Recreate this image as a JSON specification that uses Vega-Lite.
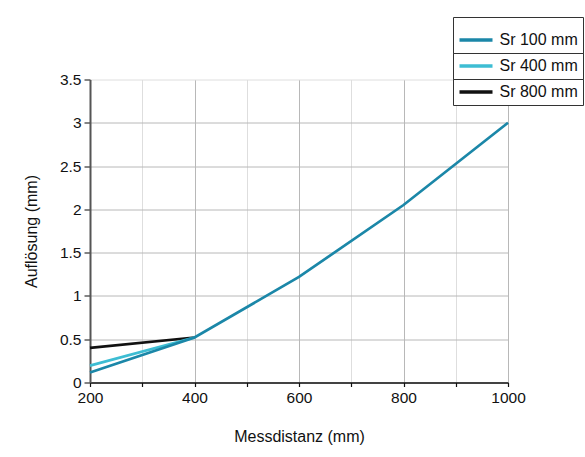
{
  "$schema": "https://vega.github.io/schema/vega-lite/v6.json",
  "width": 418,
  "height": 303,
  "autosize": "none",
  "padding": {"left": 90, "top": 79.5, "right": 77, "bottom": 74.5},
  "background": "white",
  "config": {
    "font": "Liberation Sans",
    "view": {"stroke": null},
    "axis": {"labelFont": "Liberation Sans", "titleFont": "Liberation Sans", "labelColor": "#111", "titleColor": "#111", "labelFontSize": 15.5, "titleFontSize": 16, "titleFontWeight": "normal", "labelFlush": false},
    "legend": {
      "symbolType": "stroke",
      "symbolSize": 1089,
      "symbolStrokeWidth": 3.5,
      "labelFontSize": 16,
      "labelFont": "Liberation Sans",
      "labelColor": "#111",
      "labelOffset": 5,
      "padding": 4.5,
      "strokeColor": "#333",
      "fillColor": "white",
      "orient": "none",
      "title": null
    }
  },
  "data": {
    "values": [
      {"d": 200, "r": 0.115, "series": "Sr 100 mm"},
      {"d": 400, "r": 0.52, "series": "Sr 100 mm"},
      {"d": 600, "r": 1.22, "series": "Sr 100 mm"},
      {"d": 800, "r": 2.05, "series": "Sr 100 mm"},
      {"d": 1000, "r": 3.0, "series": "Sr 100 mm"},
      {"d": 200, "r": 0.195, "series": "Sr 400 mm"},
      {"d": 400, "r": 0.52, "series": "Sr 400 mm"},
      {"d": 200, "r": 0.4, "series": "Sr 800 mm"},
      {"d": 400, "r": 0.52, "series": "Sr 800 mm"}
    ]
  },
  "encoding": {
    "x": {
      "field": "d", "type": "quantitative",
      "scale": {"domain": [200, 1000], "nice": false, "zero": false},
      "axis": {
        "title": "Messdistanz (mm)",
        "values": [200, 300, 400, 500, 600, 700, 800, 900, 1000],
        "format": "d",
        "labelExpr": "datum.value % 200 == 0 ? datum.label : ''",
        "gridColor": {"condition": {"test": "datum.value % 200 == 0", "value": "#b8b8b8"}, "value": "#dedede"},
        "domainColor": "#111", "domainWidth": 1.5,
        "tickColor": "#111", "tickSize": 4, "tickWidth": 1.2,
        "labelPadding": 4,
        "titlePadding": 22
      }
    },
    "y": {
      "field": "r", "type": "quantitative",
      "scale": {"domain": [0, 3.5], "nice": false},
      "axis": {
        "title": "Auflösung (mm)",
        "values": [0, 0.5, 1, 1.5, 2, 2.5, 3, 3.5],
        "format": "~g",
        "gridColor": {"condition": {"test": "datum.value == 3.5", "value": "#dedede"}, "value": "#b8b8b8"},
        "domainColor": "#555", "domainWidth": 2,
        "tickColor": "#333", "tickSize": 6, "tickWidth": 1.2,
        "labelPadding": 3,
        "titlePadding": 20
      }
    }
  },
  "layer": [
    {
      "transform": [{"filter": "datum.series == 'Sr 800 mm'"}],
      "mark": {"type": "line", "strokeWidth": 2.7},
      "encoding": {
        "color": {"field": "series", "type": "nominal", "scale": {"domain": ["Sr 800 mm"], "range": ["#111111"]}, "legend": {"legendX": 363, "legendY": -10.5}}
      }
    },
    {
      "transform": [{"filter": "datum.series == 'Sr 400 mm'"}],
      "mark": {"type": "line", "strokeWidth": 2.7},
      "encoding": {
        "color": {"field": "series", "type": "nominal", "scale": {"domain": ["Sr 400 mm"], "range": ["#3dbdd3"]}, "legend": {"legendX": 363, "legendY": -36.5}}
      }
    },
    {
      "transform": [{"filter": "datum.series == 'Sr 100 mm'"}],
      "mark": {"type": "line", "strokeWidth": 2.7},
      "encoding": {
        "color": {"field": "series", "type": "nominal", "scale": {"domain": ["Sr 100 mm"], "range": ["#1b87a8"]}, "legend": {"legendX": 363, "legendY": -62.5}}
      }
    }
  ],
  "resolve": {"scale": {"color": "independent"}}
}
